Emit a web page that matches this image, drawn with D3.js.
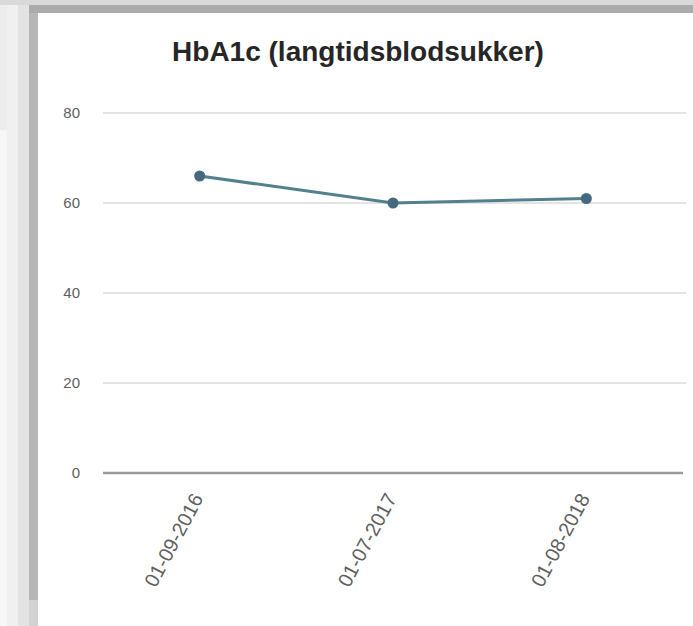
<!DOCTYPE html>
<html>
<head>
<meta charset="utf-8">
<script src="https://cdn.jsdelivr.net/npm/d3@7"></script>
<style>
  body { margin: 0; background: #fff; }
  text { font-family: Arial, "Liberation Sans", sans-serif; }
</style>
</head>
<body>
<svg id="chart" width="693" height="626"></svg>
<script>
const title = "HbA1c (langtidsblodsukker)";
const dates = ["01-09-2016", "01-07-2017", "01-08-2018"];
const hba1c = [66, 60, 61];
const yTicks = [0, 20, 40, 60, 80];

const svg = d3.select("#chart");

// screenshot frame around the chart panel
svg.append("rect").attr("x", 0).attr("y", 0).attr("width", 693).attr("height", 626).attr("fill", "#f7f7f7");
svg.append("rect").attr("x", 0).attr("y", 0).attr("width", 110).attr("height", 130).attr("fill", "#ededed");
svg.append("rect").attr("x", 7).attr("y", 0).attr("width", 11).attr("height", 626).attr("fill", "#f0f0f0");
svg.append("rect").attr("x", 18).attr("y", 0).attr("width", 11).attr("height", 626).attr("fill", "#e3e3e3");
svg.append("rect").attr("x", 0).attr("y", 0).attr("width", 693).attr("height", 5).attr("fill", "#d9d9d9");
svg.append("rect").attr("x", 29).attr("y", 5).attr("width", 664).attr("height", 8).attr("fill", "#ababab");
svg.append("rect").attr("x", 29).attr("y", 13).attr("width", 9).attr("height", 587).attr("fill", "#b6b6b6");
svg.append("rect").attr("x", 29).attr("y", 600).attr("width", 9).attr("height", 26).attr("fill", "#d2d2d2");
svg.append("rect").attr("x", 38).attr("y", 13).attr("width", 655).attr("height", 613).attr("fill", "#ffffff");

const x = d3.scaleBand().domain(dates).range([103, 683]);
const y = d3.scaleLinear().domain([0, 80]).range([473, 113]);

svg.append("text")
  .attr("x", 358).attr("y", 61)
  .attr("text-anchor", "middle")
  .attr("font-size", 28).attr("font-weight", "bold")
  .attr("fill", "#262626")
  .text(title);

// gridlines
svg.append("g").selectAll("line")
  .data(yTicks.filter(d => d !== 0))
  .join("line")
  .attr("x1", 103).attr("x2", 686)
  .attr("y1", d => y(d)).attr("y2", d => y(d))
  .attr("stroke", "#e4e4e4").attr("stroke-width", 2);

svg.append("line")
  .attr("x1", 103).attr("x2", 683)
  .attr("y1", y(0)).attr("y2", y(0))
  .attr("stroke", "#9a9a9a").attr("stroke-width", 2.5);

// y axis labels
const yAxis = svg.append("g")
  .attr("transform", "translate(80,0)")
  .call(d3.axisLeft(y).tickValues(yTicks).tickSize(0).tickPadding(0));
yAxis.select(".domain").remove();
yAxis.selectAll("text")
  .attr("font-size", 15)
  .attr("fill", "#606060")
  .style("font-family", "Arial, 'Liberation Sans', sans-serif");

// x axis labels, rotated
const xAxis = svg.append("g")
  .attr("transform", "translate(0," + y(0) + ")")
  .call(d3.axisBottom(x).tickSize(0).tickPadding(0));
xAxis.select(".domain").remove();
xAxis.selectAll("text")
  .attr("font-size", 20)
  .attr("fill", "#606060")
  .style("font-family", "Arial, 'Liberation Sans', sans-serif")
  .attr("text-anchor", "end")
  .attr("transform", "translate(-2,22) rotate(-62)")
  .attr("dy", "0.35em")
  .attr("y", 0);

const cx = d => x(d) + x.bandwidth() / 2;

const line = d3.line()
  .x((d, i) => cx(dates[i]))
  .y(d => y(d));

svg.append("path")
  .datum(hba1c)
  .attr("d", line)
  .attr("fill", "none")
  .attr("stroke", "#53808f")
  .attr("stroke-width", 3);

svg.append("g").selectAll("circle")
  .data(hba1c)
  .join("circle")
  .attr("cx", (d, i) => cx(dates[i]))
  .attr("cy", d => y(d))
  .attr("r", 5.5)
  .attr("fill", "#456a80");
</script>
</body>
</html>
